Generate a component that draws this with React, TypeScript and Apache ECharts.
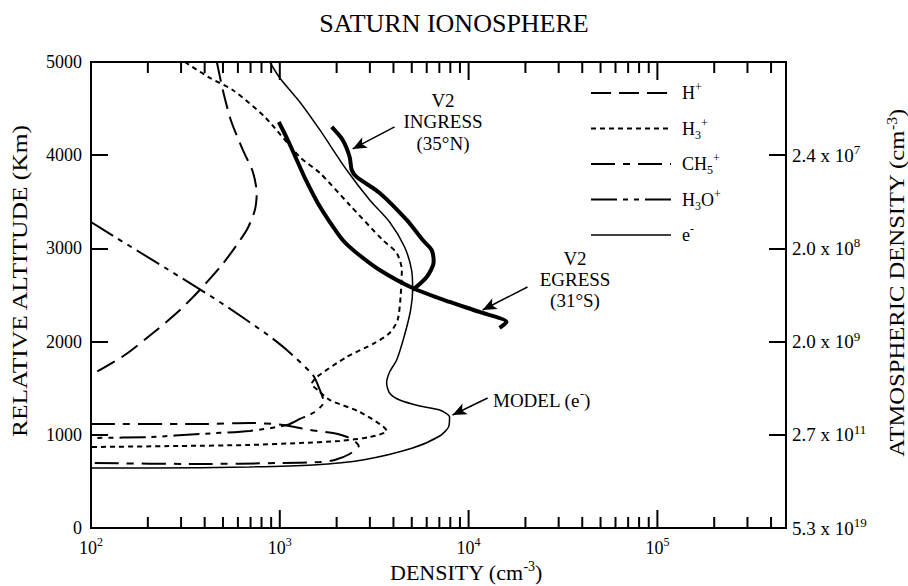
import React, { useEffect, useRef } from 'react';
import * as echarts from 'echarts';

const FONT = '"Liberation Serif", "Times New Roman", serif';

// ---- data (density in cm^-3, altitude in km) ----
const hPlusDensity = [464, 499, 550, 637, 720, 755, 738, 677, 592, 493, 377, 296, 223, 151, 100];
const hPlusAltitude = [5000, 4700, 4378, 4056, 3820, 3594, 3412, 3219, 3037, 2822, 2554, 2339, 2125, 1856, 1642];

const h3PlusDensity = [314, 427, 563, 833, 1276, 1630, 2344, 3508, 4160, 4430, 4370, 4210, 3816, 3184, 2261, 1570, 1476, 1590, 1841, 2650, 3680, 2994, 2074, 1276, 693, 296, 100];
const h3PlusAltitude = [5000, 4829, 4700, 4410, 3981, 3809, 3466, 3090, 2951, 2768, 2500, 2232, 2092, 1985, 1835, 1620, 1545, 1481, 1373, 1245, 1041, 976, 934, 912, 891, 880, 869];

const ch5PlusDensity = [100, 377, 693, 1000, 1443, 2028, 2404, 2618, 2344, 1954, 1630, 1000, 377, 100];
const ch5PlusAltitude = [1116, 1116, 1127, 1110, 1052, 1009, 955, 880, 794, 730, 708, 697, 687, 697];

const h3oPlusDensity = [100, 134, 253, 481, 865, 1089, 1496, 1630, 1710, 1531, 1276, 1089, 693, 377, 205, 100];
const h3oPlusAltitude = [3283, 3122, 2779, 2425, 2071, 1910, 1642, 1481, 1352, 1245, 1170, 1105, 1041, 1009, 976, 966];

const electronDensity = [885, 1000, 1276, 1630, 2261, 2994, 3816, 4581, 4990, 5054, 4932, 4581, 4160, 3816, 3680, 3816, 4315, 5507, 7031, 7930, 7830, 7031, 5054, 2749, 1496, 693, 205, 100];
const electronAltitude = [5000, 4829, 4571, 4271, 3841, 3519, 3283, 3015, 2768, 2554, 2339, 2071, 1803, 1674, 1556, 1449, 1373, 1309, 1266, 1191, 1084, 987, 858, 730, 676, 655, 644, 644];

const ingressDensity = [1884, 2153, 2344, 2404, 2554, 3381, 4699, 5714, 6371, 6531, 5999, 5054];
const ingressAltitude = [4303, 4163, 3981, 3841, 3766, 3595, 3305, 3090, 2983, 2854, 2693, 2554];

const egressDensity = [988, 1102, 1230, 1374, 1589, 1841, 2153, 2554, 3381, 5054, 7930, 11430, 15880, 14590];
const egressAltitude = [4356, 4163, 3949, 3734, 3487, 3283, 3090, 2951, 2768, 2575, 2425, 2318, 2210, 2146];

// right axis: atmospheric density at altitude
const rightAxisAltitudes = [0, 1000, 2000, 3000, 4000];
const rightAxisMantissa = ['5.3', '2.7', '2.0', '2.0', '2.4'];
const rightAxisExponent = ['19', '11', '9', '8', '7'];

// annotation arrows: [fromDensity, fromAltitude, toDensity, toAltitude]
const ingressArrow = [4055, 4303, 2432, 4067];
const egressArrow = [20510, 2586, 11860, 2339];
const modelArrow = [12620, 1395, 8222, 1212];

const legendNames = ['H+', 'H3+', 'CH5+', 'H3O+', 'e-'];
const legendLabels = ['H{sup|+}', 'H{sub|3}{sup|+}', 'CH{sub|5}{sup|+}', 'H{sub|3}O{sup|+}', 'e{sup|-}'];

// styles per species
const speciesDash: Record<string, any> = {
  'H+': [20, 8],
  'H3+': [5, 4],
  'CH5+': [24, 8, 7, 8],
  'H3O+': [26, 6, 5, 6, 5, 6],
  'e-': null,
};
const speciesWidth: Record<string, number> = { 'H+': 2, 'H3+': 2, 'CH5+': 2, 'H3O+': 2, 'e-': 1.5 };

const zip = (xs: number[], ys: number[]) => xs.map((x, i) => [x, ys[i]]);

function buildTicks() {
  const t: number[][] = [];
  for (let e = 2; e <= 5; e++) {
    for (let m = 1; m <= 9; m++) {
      const v = m * Math.pow(10, e);
      if (v <= 100) continue;
      if (v > 450000) continue;
      t.push([v, 0]);
    }
  }
  return t;
}

export default function App() {
  const ref = useRef<HTMLDivElement>(null);
  useEffect(() => {
    if (!ref.current) return;
    const chart = echarts.init(ref.current, undefined, { renderer: 'svg' });
    const lineBase = (name: string, data: number[][], width: number, dash: any) => ({
      name,
      type: 'line',
      data,
      symbol: 'none',
      showSymbol: false,
      smooth: 0.25,
      lineStyle: { color: '#000', width, type: dash || 'solid' },
      itemStyle: { color: '#000' },
      silent: true,
      z: 3,
    });
    const arrow = (a: number[]) => [{ coord: [a[0], a[1]] }, { coord: [a[2], a[3]] }];

    const supRich = (size: number) => ({ fontFamily: FONT, fontSize: size, lineHeight: size, verticalAlign: 'top', fill: '#000', color: '#000' });
    const subRich = (size: number) => ({ fontFamily: FONT, fontSize: size, lineHeight: size, verticalAlign: 'bottom', fill: '#000', color: '#000' });

    // legend drawn as graphic
    const legendLeft = 591;
    const legendLineLen = 80;
    const legendTop = 93;
    const legendStep = 35.5;
    const legendGraphics: any[] = [];
    legendNames.forEach((n, i) => {
      const y = legendTop + i * legendStep;
      legendGraphics.push({
        type: 'line',
        shape: { x1: legendLeft, y1: y, x2: legendLeft + legendLineLen, y2: y },
        style: { stroke: '#000', lineWidth: speciesWidth[n], lineDash: speciesDash[n] || null },
        silent: true,
      });
      legendGraphics.push({
        type: 'text',
        x: legendLeft + legendLineLen + 11,
        y,
        style: {
          text: legendLabels[i], fontFamily: FONT, fontSize: 18, lineHeight: 24, fill: '#000', align: 'left', verticalAlign: 'middle',
          rich: { sup: supRich(12), sub: subRich(12) },
        },
        silent: true,
      });
    });

    const option: any = {
      animation: false,
      backgroundColor: '#fff',
      title: {
        text: 'SATURN IONOSPHERE',
        left: 'center',
        top: 5,
        textStyle: { fontFamily: FONT, fontSize: 26, fontWeight: 'normal', color: '#000' },
      },
      grid: {
        left: 91, right: 122, top: 62, bottom: 58,
        show: true, borderColor: '#000', borderWidth: 2, backgroundColor: 'transparent',
      },
      xAxis: {
        type: 'log',
        logBase: 10,
        min: 100,
        max: 480000,
        splitLine: { show: false },
        axisTick: { show: false },
        axisLine: { lineStyle: { color: '#000', width: 2 } },
        axisLabel: {
          margin: 8,
          color: '#000',
          fontFamily: FONT,
          fontSize: 18,
          lineHeight: 24,
          formatter: (v: number) => {
            const e = Math.round(Math.log10(v));
            if (Math.abs(Math.pow(10, e) - v) / v > 1e-6) return '';
            return '10{sup|' + e + '}';
          },
          rich: { sup: supRich(12) },
        },
      },
      yAxis: [
        {
          type: 'value',
          min: 0, max: 5000, interval: 1000,
          position: 'left',
          splitLine: { show: false },
          axisLine: { show: true, lineStyle: { color: '#000', width: 2 } },
          axisTick: { show: true, inside: true, length: 17, lineStyle: { color: '#000', width: 2 } },
          axisLabel: { color: '#000', fontFamily: FONT, fontSize: 18, margin: 9, formatter: (v: number) => String(v) },
        },
        {
          type: 'value',
          min: 0, max: 5000, interval: 1000,
          position: 'right',
          splitLine: { show: false },
          axisLine: { show: true, lineStyle: { color: '#000', width: 2 } },
          axisTick: { show: true, inside: true, length: 17, lineStyle: { color: '#000', width: 2 } },
          axisLabel: {
            margin: 6,
            color: '#000',
            fontFamily: FONT,
            fontSize: 19,
            lineHeight: 24,
            formatter: (v: number) => {
              const i = rightAxisAltitudes.indexOf(v);
              if (i < 0) return '';
              return rightAxisMantissa[i] + ' x 10{sup|' + rightAxisExponent[i] + '}';
            },
            rich: { sup: supRich(13) },
          },
        },
      ],
      series: [
        ...legendNames.map((n, i) => {
          const d = [
            zip(hPlusDensity, hPlusAltitude),
            zip(h3PlusDensity, h3PlusAltitude),
            zip(ch5PlusDensity, ch5PlusAltitude),
            zip(h3oPlusDensity, h3oPlusAltitude),
            zip(electronDensity, electronAltitude),
          ][i];
          return lineBase(n, d, speciesWidth[n], speciesDash[n]);
        }),
        lineBase('V2 INGRESS', zip(ingressDensity, ingressAltitude), 4, null),
        lineBase('V2 EGRESS', zip(egressDensity, egressAltitude), 4, null),
        {
          name: 'arrows',
          type: 'line',
          data: [],
          silent: true,
          markLine: {
            silent: true,
            animation: false,
            symbol: ['none', 'arrow'],
            symbolSize: [9, 14],
            label: { show: false },
            lineStyle: { color: '#000', width: 1.5, type: 'solid' },
            emphasis: { disabled: true },
            data: [arrow(ingressArrow), arrow(egressArrow), arrow(modelArrow)],
          },
        },
        {
          name: 'ticks',
          type: 'custom',
          silent: true,
          clip: false,
          z: 5,
          data: buildTicks(),
          encode: { x: 0, y: 1 },
          renderItem: (params: any, api: any) => {
            const v = api.value(0);
            const lg = Math.log10(v);
            const major = Math.abs(lg - Math.round(lg)) < 1e-9;
            const len = major ? 18 : 11;
            const b = api.coord([v, 0]);
            const t = api.coord([v, 5000]);
            return {
              type: 'group',
              children: [
                { type: 'line', shape: { x1: b[0], y1: b[1], x2: b[0], y2: b[1] - len }, style: { stroke: '#000', lineWidth: 2 } },
                { type: 'line', shape: { x1: t[0], y1: t[1], x2: t[0], y2: t[1] + len }, style: { stroke: '#000', lineWidth: 2 } },
              ],
            };
          },
        },
      ],
      graphic: [
        ...legendGraphics,
        {
          type: 'text', x: 20, y: 281, rotation: Math.PI / 2, scaleX: 1.16,
          style: { text: 'RELATIVE ALTITUDE (Km)', fontFamily: FONT, fontSize: 22, fill: '#000', align: 'center', verticalAlign: 'middle' },
        },
        {
          type: 'text', x: 896, y: 283, rotation: Math.PI / 2, scaleX: 1.12,
          style: {
            text: 'ATMOSPHERIC DENSITY (cm{sup|-3})', fontFamily: FONT, fontSize: 22, fill: '#000', align: 'center', verticalAlign: 'middle',
            rich: { sup: supRich(14) },
          },
        },
        {
          type: 'text', x: 466, y: 572,
          style: {
            text: 'DENSITY (cm{sup|-3})', fontFamily: FONT, fontSize: 22, fill: '#000', align: 'center', verticalAlign: 'middle', lineHeight: 26,
            rich: { sup: supRich(14) },
          },
        },
        {
          type: 'text', x: 443, y: 121.5,
          style: { text: 'V2\nINGRESS\n(35°N)', fontFamily: FONT, fontSize: 19, lineHeight: 21.5, fill: '#000', align: 'center', verticalAlign: 'middle' },
        },
        {
          type: 'text', x: 575, y: 279,
          style: { text: 'V2\nEGRESS\n(31°S)', fontFamily: FONT, fontSize: 19, lineHeight: 21, fill: '#000', align: 'center', verticalAlign: 'middle' },
        },
        {
          type: 'text', x: 493, y: 400,
          style: {
            text: 'MODEL (e{sup|-})', fontFamily: FONT, fontSize: 19, lineHeight: 24, fill: '#000', align: 'left', verticalAlign: 'middle',
            rich: { sup: supRich(12) },
          },
        },
      ],
    };
    chart.setOption(option);
    return () => chart.dispose();
  }, []);
  return <div ref={ref} style={{ position: 'fixed', left: 0, top: 0, width: 908, height: 586, background: '#fff' }} />;
}
